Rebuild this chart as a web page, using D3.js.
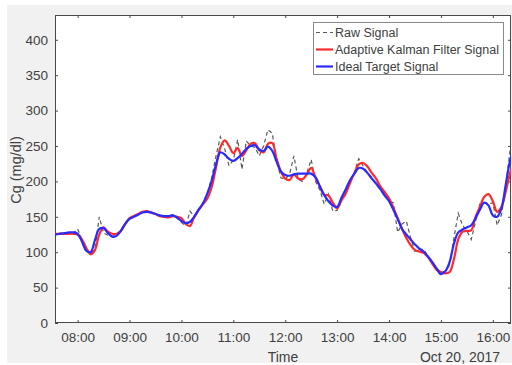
<!DOCTYPE html>
<html>
<head>
<meta charset="utf-8">
<script src="https://cdn.jsdelivr.net/npm/d3@7/dist/d3.min.js"></script>
<style>
  html, body { margin: 0; padding: 0; background: #ffffff; }
  svg { display: block; font-family: "Liberation Sans", Arial, Helvetica, sans-serif; }
</style>
</head>
<body>
<svg id="chart" width="512" height="365"></svg>
<script>
// CGM readings, one every 5 minutes starting at 07:30 on Oct 20, 2017 (mg/dl)
const sampleStart = new Date(2017, 9, 20, 7, 30);
const sampleStepMinutes = 5;

const rawSignal = [
  126, 126, 127, 127, 126, 127,
  133, 118, 104, 99, 104, 150, 127, 124, 122, 125, 131, 141,
  147, 151, 154, 156, 158, 155, 153, 151, 150, 151, 153, 148,
  142, 137, 158, 150, 161, 170, 183, 205, 236, 263, 246, 222,
  230, 259, 217, 257, 250, 248, 236, 250, 273, 268, 230, 205,
  203, 210, 236, 203, 200, 212, 231, 200, 188, 168, 182, 158,
  159, 176, 185, 198, 213, 232, 222, 212, 206, 196, 188, 183,
  172, 170, 128, 140, 144, 120, 101, 104, 104, 94, 85, 77,
  72, 73, 82, 120, 155, 138, 130, 118, 143, 168, 170, 168,
  170, 138, 153, 195, 245, 252
];

const kalmanSignal = [
  126, 126, 126, 126, 126, 126,
  125, 118, 106, 97, 103, 125, 135, 129, 126, 126, 130, 140,
  148, 151, 154, 157, 158, 156, 154, 151, 150, 149, 151, 150,
  148, 140, 137, 151, 160, 168, 176, 192, 220, 248, 258, 250,
  240, 247, 236, 244, 253, 254, 244, 241, 253, 254, 232, 214,
  204, 202, 210, 204, 203, 210, 219, 205, 193, 181, 180, 170,
  162, 173, 183, 198, 212, 224, 226, 221, 212, 204, 193, 185,
  176, 163, 148, 133, 120, 110, 103, 101, 99, 93, 84, 75,
  72, 70, 72, 90, 118, 129, 130, 131, 150, 164, 178, 182,
  172, 157, 164, 186, 212, 232
];

const idealSignal = [
  124, 125, 126, 127, 128, 128,
  126, 115, 102, 100, 117, 133, 134, 127, 122, 123, 130, 140,
  147, 150, 153, 156, 157, 156, 154, 152, 151, 151, 152, 149,
  144, 141, 143, 150, 160, 169, 183, 201, 224, 241, 238, 232,
  229, 233, 239, 246, 250, 251, 245, 243, 249, 243, 228, 214,
  209, 208, 210, 211, 211, 211, 211, 206, 193, 181, 172, 166,
  164, 177, 189, 202, 211, 219, 218, 212, 204, 197, 189, 180,
  172, 160, 147, 133, 125, 118, 111, 105, 101, 94, 86, 77,
  69, 73, 86, 112, 128, 132, 135, 138, 148, 160, 170, 166,
  152, 150, 162, 196, 230, 250
];

const yTickValues = [0, 50, 100, 150, 200, 250, 300, 350, 400];
const seriesNames = ["Raw Signal", "Adaptive Kalman Filter Signal", "Ideal Target Signal"];
const xAxisTitle = "Time";
const dateLabel = "Oct 20, 2017";
const yAxisTitle = "Cg (mg/dl)";

const timeAt = i => new Date(sampleStart.getTime() + i * sampleStepMinutes * 60000);

const svg = d3.select("#chart");
const W = 512, H = 365;
const plot = { left: 55, top: 15, right: 511, bottom: 323 };

const axisColor = "#4a4a4a";
const textColor = "#404040";

// figure background
svg.append("rect").attr("x", 0).attr("y", 0).attr("width", W).attr("height", H).attr("fill", "#ffffff");
svg.append("rect").attr("x", 7).attr("y", 5).attr("width", W - 7).attr("height", 358).attr("fill", "#f1f1f1");

// axes area
svg.append("rect")
  .attr("x", plot.left).attr("y", plot.top)
  .attr("width", plot.right - plot.left).attr("height", plot.bottom - plot.top)
  .attr("fill", "#ffffff");

const x = d3.scaleTime()
  .domain([new Date(2017, 9, 20, 7, 33, 50), new Date(2017, 9, 20, 16, 21, 0)])
  .range([plot.left, plot.right]);
const y = d3.scaleLinear().domain([0, 435]).range([plot.bottom, plot.top]);

svg.append("clipPath").attr("id", "plotClip")
  .append("rect")
  .attr("x", plot.left).attr("y", plot.top)
  .attr("width", plot.right - plot.left).attr("height", plot.bottom - plot.top);

const hourTicks = d3.timeHour.every(1).range(x.domain()[0], x.domain()[1]);
const fmt = d3.timeFormat("%H:%M");
const tickLen = 3;

// bottom axis
const xAxis = d3.axisBottom(x).tickValues(hourTicks).tickFormat(fmt).tickSizeInner(-tickLen).tickSizeOuter(0).tickPadding(9);
const gx = svg.append("g").attr("transform", `translate(0,${plot.bottom})`).call(xAxis);
// top ticks
const gxt = svg.append("g").attr("transform", `translate(0,${plot.top})`)
  .call(d3.axisTop(x).tickValues(hourTicks).tickFormat("").tickSizeInner(-tickLen).tickSizeOuter(0));
// left axis
const yAxis = d3.axisLeft(y).tickValues(yTickValues).tickSizeInner(-tickLen).tickSizeOuter(0).tickPadding(7);
const gy = svg.append("g").attr("transform", `translate(${plot.left},0)`).call(yAxis);
// right ticks
const gyr = svg.append("g").attr("transform", `translate(${plot.right},0)`)
  .call(d3.axisRight(y).tickValues(yTickValues).tickFormat("").tickSizeInner(-tickLen).tickSizeOuter(0));

[gx, gxt, gy, gyr].forEach(g => {
  g.select(".domain").remove();
  g.selectAll(".tick line").attr("stroke", axisColor).attr("stroke-width", 1);
  g.selectAll(".tick text").attr("fill", textColor).style("font-size", "13.5px")
    .style("font-family", '"Liberation Sans", Arial, sans-serif');
});

// box outline
svg.append("rect")
  .attr("x", plot.left + 0.5).attr("y", plot.top + 0.5)
  .attr("width", plot.right - plot.left - 1).attr("height", plot.bottom - plot.top - 1)
  .attr("fill", "none").attr("stroke", axisColor).attr("stroke-width", 1);

// signal lines
const lineSmooth = d3.line()
  .x((d, i) => x(timeAt(i)))
  .y(d => y(d))
  .curve(d3.curveCatmullRom.alpha(0.5));
const lineRaw = d3.line()
  .x((d, i) => x(timeAt(i)))
  .y(d => y(d));

const marks = svg.append("g").attr("clip-path", "url(#plotClip)");
marks.append("path").datum(rawSignal)
  .attr("d", lineRaw).attr("fill", "none")
  .attr("stroke", "#5a5a5a").attr("stroke-width", 1.2).attr("stroke-dasharray", "4,3");
marks.append("path").datum(kalmanSignal)
  .attr("d", lineSmooth).attr("fill", "none")
  .attr("stroke", "#ff2a2a").attr("stroke-width", 2.2).attr("stroke-linejoin", "round");
marks.append("path").datum(idealSignal)
  .attr("d", lineSmooth).attr("fill", "none")
  .attr("stroke", "#2a2aff").attr("stroke-width", 2.2).attr("stroke-linejoin", "round");

// axis titles
svg.append("text").attr("x", 283).attr("y", 362).attr("text-anchor", "middle")
  .attr("fill", textColor).style("font-size", "14px").text(xAxisTitle);
svg.append("text").attr("x", 460).attr("y", 362).attr("text-anchor", "middle")
  .attr("fill", textColor).style("font-size", "14px").text(dateLabel);
svg.append("text")
  .attr("transform", "translate(21,170) rotate(-90)")
  .attr("text-anchor", "middle")
  .attr("fill", textColor).style("font-size", "14.5px").text(yAxisTitle);

// legend
const legend = svg.append("g");
legend.append("rect").attr("x", 313.5).attr("y", 22.5).attr("width", 190).attr("height", 52)
  .attr("fill", "#ffffff").attr("stroke", "#8a8a8a").attr("stroke-width", 1);
const legendStyles = [
  { stroke: "#5a5a5a", width: 1.2, dash: "4,3" },
  { stroke: "#ff2a2a", width: 2.2, dash: null },
  { stroke: "#2a2aff", width: 2.2, dash: null }
];
seriesNames.forEach((name, i) => {
  const cy = 32.5 + i * 17;
  legend.append("line").attr("x1", 316).attr("x2", 333).attr("y1", cy).attr("y2", cy)
    .attr("stroke", legendStyles[i].stroke).attr("stroke-width", legendStyles[i].width)
    .attr("stroke-dasharray", legendStyles[i].dash);
  legend.append("text").attr("x", 335).attr("y", cy).attr("dy", "0.35em")
    .attr("fill", textColor).style("font-size", "12.5px").text(name);
});
</script>
</body>
</html>
